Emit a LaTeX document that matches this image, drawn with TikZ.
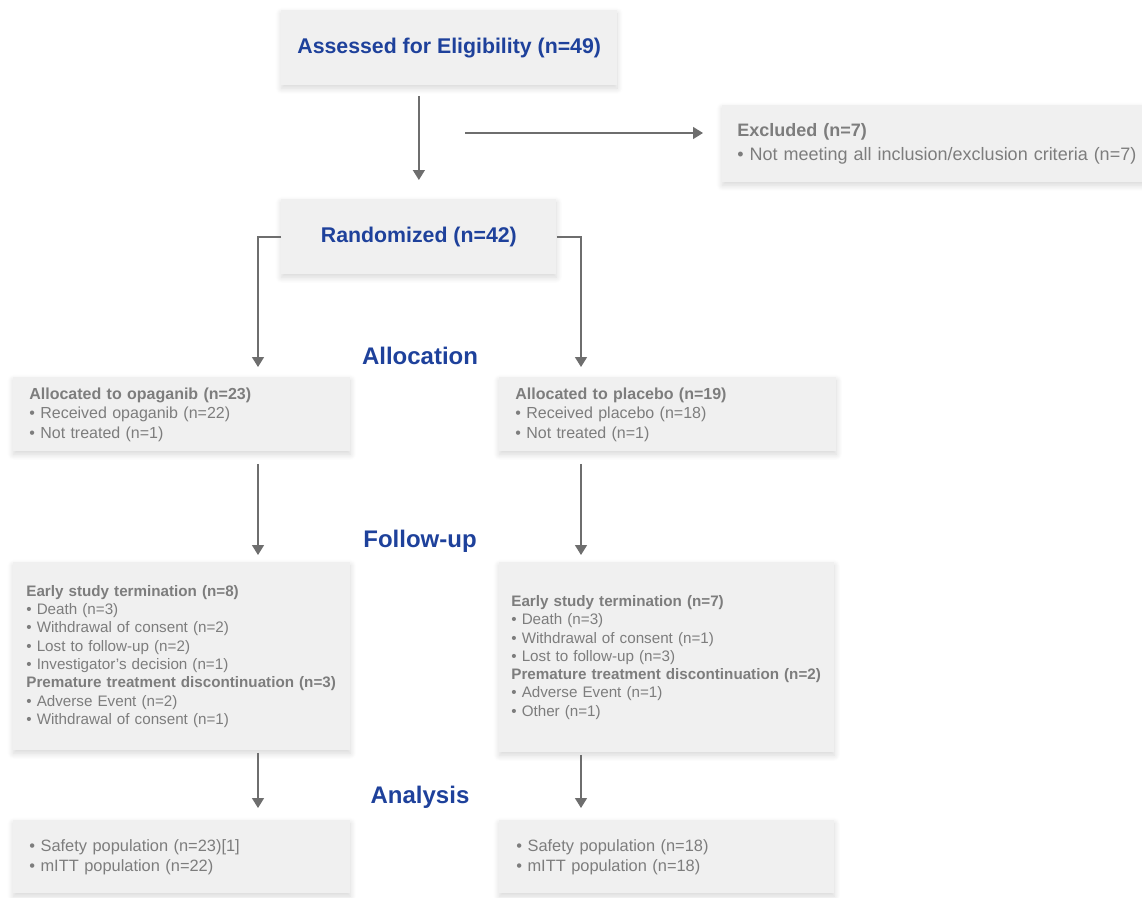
\documentclass[tikz,border=0pt]{standalone}
\usepackage{fontspec}
\setmainfont{Liberation Sans}
\usetikzlibrary{arrows.meta,shadows.blur}

\definecolor{boxgray}{RGB}{240,240,240}
\definecolor{txtgray}{RGB}{125,125,125}
\definecolor{headblue}{RGB}{30,65,155}
\definecolor{arrgray}{RGB}{110,110,110}

\tikzset{every picture/.style={line width=0.75pt}}
\tikzset{
  box/.style={fill=boxgray, anchor=north west, align=left, text=txtgray, inner xsep=16pt, inner ysep=0pt,
    blur shadow={shadow xshift=0pt, shadow yshift=-3pt, shadow blur radius=6pt, shadow blur steps=10, shadow opacity=16}},
  headbox/.style={box, align=center, text=headblue, font=\fontsize{21.3}{26}\selectfont\bfseries},
  stage/.style={text=headblue, font=\fontsize{24}{28}\selectfont\bfseries},
  arr/.style={draw=arrgray, line width=1.5pt, -{Triangle[width=12pt,length=10pt]}},
}

\begin{document}
\begin{tikzpicture}[x=1pt,y=1pt,yscale=-1,xscale=1]
	\useasboundingbox (0,0) rectangle (1142,897);

	%Box: assessed / excluded / randomized
	\node[headbox, minimum width=327pt, minimum height=75pt] (assess) at (281,10) {Assessed for Eligibility (n=49)};
	\node[box, text width=420pt, inner xsep=15pt, minimum height=77pt, font=\fontsize{18}{24}\selectfont] (excl) at (722,105) {\textbf{Excluded (n=7)}\\\textbullet\ Not meeting all inclusion/exclusion criteria (n=7)};
	\node[headbox, minimum width=275pt, minimum height=75pt] (rand) at (281,199) {Randomized (n=42)};

	%Stage labels
	\node[stage] (allocation) at (420,356) {Allocation};
	\node[stage] (followup) at (420,541) {Follow-up};
	\node[stage] (analysis) at (420,797) {Analysis};

	%Box: allocation
	\node[box, text width=305pt, minimum height=74pt, font=\fontsize{16}{19.5}\selectfont] (allocL) at (13,377) {\textbf{Allocated to opaganib (n=23)}\\\textbullet\ Received opaganib (n=22)\\\textbullet\ Not treated (n=1)};
	\node[box, text width=305pt, minimum height=74pt, font=\fontsize{16}{19.5}\selectfont] (allocR) at (499,377) {\textbf{Allocated to placebo (n=19)}\\\textbullet\ Received placebo (n=18)\\\textbullet\ Not treated (n=1)};

	%Box: follow-up
	\node[box, text width=311pt, inner xsep=13pt, minimum height=188pt, font=\fontsize{15.2}{18.3}\selectfont] (fupL) at (13,562) {\textbf{Early study termination (n=8)}\\\textbullet\ Death (n=3)\\\textbullet\ Withdrawal of consent (n=2)\\\textbullet\ Lost to follow-up (n=2)\\\textbullet\ Investigator’s decision (n=1)\\\textbf{Premature treatment discontinuation (n=3)}\\\textbullet\ Adverse Event (n=2)\\\textbullet\ Withdrawal of consent (n=1)};
	\node[box, text width=311pt, inner xsep=12pt, minimum height=190pt, font=\fontsize{15.2}{18.3}\selectfont] (fupR) at (499,562) {\textbf{Early study termination (n=7)}\\\textbullet\ Death (n=3)\\\textbullet\ Withdrawal of consent (n=1)\\\textbullet\ Lost to follow-up (n=3)\\\textbf{Premature treatment discontinuation (n=2)}\\\textbullet\ Adverse Event (n=1)\\\textbullet\ Other (n=1)};

	%Box: analysis
	\node[box, text width=305pt, minimum height=73pt, font=\fontsize{16.4}{20}\selectfont] (anaL) at (13,820) {\textbullet\ Safety population (n=23)[1]\\\textbullet\ mITT population (n=22)};
	\node[box, text width=301pt, inner xsep=17pt, minimum height=73pt, font=\fontsize{16.4}{20}\selectfont] (anaR) at (499,820) {\textbullet\ Safety population (n=18)\\\textbullet\ mITT population (n=18)};

	%Arrow columns
	\coordinate (colL) at (258,0);
	\coordinate (colR) at (581,0);
	\coordinate (exstart) at (465,133);

	%Arrows
	\draw[arr, shorten <=10pt, shorten >=19pt] (assess.south -| rand.north) -- (rand.north);
	\draw[arr, shorten >=19pt] (exstart) -- (exstart -| excl.west);
	\draw[arr, shorten >=10pt] (rand.west) -| (colL |- allocL.north);
	\draw[arr, shorten >=10pt] (rand.east) -| (colR |- allocR.north);
	\foreach \c/\a/\b in {colL/allocL/fupL, colR/allocR/fupR}
		\draw[arr, shorten <=12pt, shorten >=7pt] (\c |- \a.south) -- (\c |- \b.north);
	\foreach \c/\a/\b in {colL/fupL/anaL, colR/fupR/anaR}
		\draw[arr, shorten <=2pt, shorten >=12pt] (\c |- \a.south) -- (\c |- \b.north);

\end{tikzpicture}
\end{document}
